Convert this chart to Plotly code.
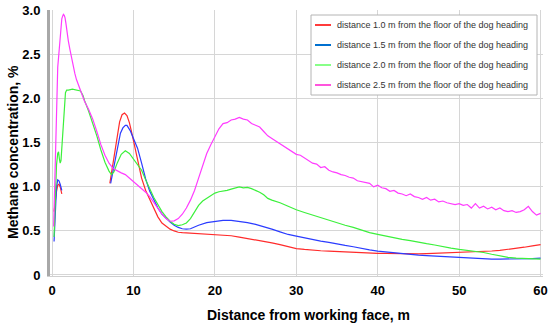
import plotly.graph_objects as go

# ---------------- data ----------------
names = [
    "distance 1.0 m from the floor of the dog heading",
    "distance 1.5 m from the floor of the dog heading",
    "distance 2.0 m from the floor of the dog heading",
    "distance 2.5 m from the floor of the dog heading",
]
colors = ["#ff2b2b", "#2b3cff", "#3cf03c", "#ff3cff"]
legend_colors = ["#ff3b3b", "#0070d0", "#88ff88", "#ff55dd"]

red_x = [0.25, 0.4, 0.55, 0.7, 0.85, 1.0, 1.15, 1.2, None,
         7.1, 7.4, 7.7, 8.0, 8.3, 8.6, 8.9, 9.2, 9.5, 9.8, 10.0, 10.5, 11.0, 11.5, 12.0, 12.5,
         13.0, 13.5, 14.0, 14.5, 15.0, 15.5, 16, 17, 18, 19, 20, 21, 22, 23, 24, 25, 26, 27,
         28, 29, 30, 31, 32, 33, 34, 35, 36, 37, 38, 39, 40, 41, 42, 43, 44, 45, 46, 47, 48,
         49, 50, 51, 52, 53, 54, 55, 56, 57, 58, 59, 60]
red_y = [0.72, 0.86, 0.95, 1.02, 1.03, 1.0, 0.95, 0.92, None,
         1.04, 1.22, 1.42, 1.60, 1.74, 1.82, 1.84, 1.81, 1.73, 1.61, 1.52, 1.30, 1.10, 0.96,
         0.86, 0.76, 0.66, 0.59, 0.55, 0.52, 0.50, 0.485, 0.48, 0.475, 0.47, 0.465, 0.46,
         0.455, 0.445, 0.43, 0.415, 0.40, 0.385, 0.365, 0.345, 0.32, 0.30, 0.29, 0.28, 0.275,
         0.27, 0.265, 0.262, 0.258, 0.255, 0.25, 0.245, 0.245, 0.242, 0.24, 0.24, 0.24, 0.242,
         0.245, 0.248, 0.25, 0.252, 0.255, 0.26, 0.265, 0.272, 0.28, 0.29, 0.30, 0.315, 0.33,
         0.345]

blue_x = [0.25, 0.4, 0.55, 0.7, 0.85, 1.0, 1.15, 1.2, None,
          7.2, 7.5, 7.8, 8.1, 8.4, 8.7, 9.0, 9.2, 9.6, 10.0, 10.5, 11.0, 11.5, 12.0, 12.5,
          13.0, 13.5, 14.0, 14.5, 15.0, 15.5, 16, 16.5, 17, 18, 19, 20, 21, 22, 23, 24, 25,
          26, 27, 28, 29, 30, 31, 32, 33, 34, 35, 36, 37, 38, 39, 40, 41, 42, 43, 44, 45, 46,
          47, 48, 49, 50, 51, 52, 53, 54, 55, 56, 57, 58, 59, 60]
blue_y = [0.38, 0.75, 1.0, 1.08, 1.07, 1.03, 0.98, 0.96, None,
          1.04, 1.18, 1.35, 1.50, 1.61, 1.67, 1.70, 1.70, 1.64, 1.55, 1.44, 1.27, 1.09, 0.95,
          0.85, 0.76, 0.69, 0.64, 0.60, 0.565, 0.54, 0.525, 0.52, 0.525, 0.565, 0.595, 0.61,
          0.62, 0.62, 0.61, 0.595, 0.575, 0.55, 0.52, 0.49, 0.46, 0.44, 0.42, 0.40, 0.385,
          0.37, 0.35, 0.335, 0.32, 0.30, 0.285, 0.27, 0.26, 0.25, 0.24, 0.23, 0.225, 0.22,
          0.215, 0.205, 0.20, 0.195, 0.19, 0.185, 0.185, 0.18, 0.18, 0.18, 0.18, 0.18, 0.185,
          0.19]

green_x = [0.25, 0.4, 0.55, 0.7, 0.8, 0.9, 1.0, 1.1, 1.2, 1.35, 1.5, 1.65, 1.8, 2.0, 2.5,
           3.0, 3.5, 3.8, 4.0, 4.5, 5.0, 5.5, 6.0, 6.5, 7.0, 7.3, 7.6, 8.0, 8.5, 9.0, 9.5,
           10.0, 10.5, 11.0, 11.5, 12.0, 12.5, 13.0, 13.5, 14.0, 14.5, 15.0, 15.5, 16.0, 16.5,
           17.0, 17.5, 18.0, 18.5, 19.0, 19.5, 20.0, 20.5, 21.0, 21.5, 22.0, 22.5, 23.0, 23.5,
           24.0, 24.5, 25.0, 25.5, 26.0, 26.5, 27, 28, 29, 30, 31, 32, 33, 34, 35, 36, 37, 38,
           39, 40, 41, 42, 43, 44, 45, 46, 47, 48, 49, 50, 51, 52, 53, 54, 55, 56, 57, 58, 59,
           60]
green_y = [0.43, 0.9, 1.25, 1.38, 1.40, 1.32, 1.27, 1.30, 1.45, 1.75, 1.98, 2.07, 2.10, 2.10,
           2.11, 2.10, 2.09, 2.04, 1.98, 1.86, 1.73, 1.58, 1.42, 1.28, 1.18, 1.14, 1.17, 1.27,
           1.37, 1.41, 1.38, 1.32, 1.26, 1.19, 1.08, 0.97, 0.88, 0.80, 0.72, 0.66, 0.61, 0.575,
           0.56, 0.57, 0.59, 0.64, 0.72, 0.79, 0.84, 0.87, 0.91, 0.93, 0.945, 0.95, 0.96, 0.975,
           0.99, 1.00, 0.99, 0.995, 0.98, 0.96, 0.94, 0.91, 0.87, 0.85, 0.82, 0.78, 0.74, 0.71,
           0.68, 0.65, 0.62, 0.59, 0.565, 0.54, 0.51, 0.48, 0.46, 0.44, 0.425, 0.405, 0.39,
           0.37, 0.355, 0.34, 0.32, 0.305, 0.29, 0.28, 0.27, 0.255, 0.235, 0.215, 0.20, 0.19,
           0.185, 0.18, 0.18]

magenta_x = [0.2, 0.3, 0.4, 0.5, 0.6, 0.7, 0.8, 0.9, 1.0, 1.1, 1.2, 1.3, 1.4, 1.5, 1.6, 1.7,
             1.8, 1.9, 2.0, 2.2, 2.4, 2.6, 2.8, 3.0, 3.3, 3.6, 4.0, 4.5, 5.0, 5.5, 6.0, 6.5,
             7.0, 7.5, 8.0, 8.5, 9.0, 9.5, 10.0, 10.5, 11.0, 11.5, 12.0, 12.5, 13.0, 13.5,
             14.0, 14.5, 15.0, 15.5, 16.0, 16.5, 17.0, 17.5, 18.0, 18.5, 19.0, 19.5, 20.0,
             20.5, 21.0, 21.5, 22.0, 22.5, 23.0, 23.5, 24.0, 24.5, 25.0, 25.5, 26.0, 26.5,
             27.0, 27.5, 28.0, 28.5, 29.0, 29.5, 30.0, 30.5, 31.0, 31.5, 32.0, 32.5, 33.0,
             33.5, 34.0, 34.5, 35.0, 35.5, 36.0, 36.5, 37.0, 37.5, 38.0, 38.5, 39.0, 39.5,
             40.0, 40.5, 41.0, 41.5, 42.0, 42.5, 43.0, 43.5, 44.0, 44.5, 45.0, 45.5, 46.0,
             46.5, 47.0, 47.5, 48.0, 48.5, 49.0, 49.5, 50.0, 50.5, 51.0, 51.5, 52.0, 52.5,
             53.0, 53.5, 54.0, 54.5, 55.0, 55.5, 56.0, 56.5, 57.0, 57.5, 58.0, 58.5, 59.0,
             59.5, 60.0]
magenta_y = [0.55, 0.95, 1.45, 1.90, 2.20, 2.36, 2.47, 2.60, 2.74, 2.85, 2.91, 2.94, 2.96,
             2.95, 2.92, 2.86, 2.78, 2.72, 2.66, 2.56, 2.46, 2.37, 2.29, 2.22, 2.14, 2.06,
             1.97, 1.88, 1.77, 1.63, 1.48, 1.36, 1.27, 1.21, 1.18, 1.16, 1.14, 1.10, 1.06,
             1.02, 0.99, 0.94, 0.89, 0.82, 0.75, 0.69, 0.64, 0.61, 0.615, 0.64, 0.69, 0.76,
             0.85, 0.96, 1.10, 1.24, 1.38, 1.48, 1.58, 1.66, 1.72, 1.73, 1.76, 1.77, 1.79,
             1.77, 1.76, 1.72, 1.70, 1.68, 1.63, 1.58, 1.55, 1.52, 1.49, 1.46, 1.42, 1.40,
             1.37, 1.36, 1.33, 1.30, 1.27, 1.26, 1.22, 1.23, 1.19, 1.17, 1.16, 1.14, 1.13,
             1.11, 1.10, 1.07, 1.06, 1.05, 1.04, 1.00, 1.02, 0.99, 0.98, 0.95, 0.96, 0.93,
             0.92, 0.90, 0.92, 0.89, 0.88, 0.86, 0.88, 0.85, 0.86, 0.83, 0.84, 0.82, 0.81,
             0.80, 0.81, 0.79, 0.80, 0.76, 0.81, 0.76, 0.78, 0.75, 0.77, 0.74, 0.76, 0.73,
             0.72, 0.73, 0.71, 0.72, 0.74, 0.78, 0.72, 0.68, 0.70]

x_ticks = [0, 10, 20, 30, 40, 50, 60]
y_ticks = [0, 0.5, 1.0, 1.5, 2.0, 2.5, 3.0]
y_tick_labels = ["0", "0.5", "1.0", "1.5", "2.0", "2.5", "3.0"]

x_title = "Distance from working face, m"
y_title = "Methane concentration, %"

# ---------------- figure ----------------
FONT = "Arial, Liberation Sans, sans-serif"
W, H = 550, 326
PL, PR, PT, PB = 50, 543, 10, 276   # plot area in pixels

def px_x(p):
    return (p - PL) / (PR - PL)

def px_y(p):
    return (PB - p) / (PB - PT)

series = [(red_x, red_y), (blue_x, blue_y), (green_x, green_y), (magenta_x, magenta_y)]

fig = go.Figure()
for (xs, ys), name, col in zip(series, names, colors):
    fig.add_trace(go.Scatter(
        x=xs, y=ys, mode="lines", name=name,
        line=dict(color=col, width=1.2),
        connectgaps=False, showlegend=False,
    ))

shapes = []
annotations = []

# legend box (drawn as layout decorations so its proportions match the reference)
shapes.append(dict(type="rect", xref="paper", yref="paper",
                   x0=px_x(311), x1=px_x(537), y0=px_y(95), y1=px_y(15),
                   line=dict(color="#b4b4b4", width=1), fillcolor="white", layer="above"))
for i, (name, lc) in enumerate(zip(names, legend_colors)):
    yy = 25 + 20 * i
    shapes.append(dict(type="line", xref="paper", yref="paper",
                       x0=px_x(315), x1=px_x(331), y0=px_y(yy), y1=px_y(yy),
                       line=dict(color=lc, width=2), layer="above"))
    annotations.append(dict(text=name, x=px_x(335), y=px_y(yy), xref="paper", yref="paper",
                            xanchor="left", yanchor="middle", showarrow=False,
                            font=dict(size=9, family=FONT, color="#333333")))

annotations.append(dict(text=x_title, x=px_x(308), y=px_y(315), xref="paper", yref="paper",
                        xanchor="center", yanchor="middle", showarrow=False,
                        font=dict(size=14, family=FONT, weight="bold", color="#000000")))
annotations.append(dict(text=y_title, x=px_x(13), y=px_y(152), xref="paper", yref="paper",
                        xanchor="center", yanchor="middle", textangle=-90, showarrow=False,
                        font=dict(size=14, family=FONT, weight="bold", color="#000000")))

fig.update_layout(
    width=W, height=H,
    margin=dict(l=PL, r=W - PR, t=PT, b=H - PB),
    paper_bgcolor="white", plot_bgcolor="white",
    font=dict(family=FONT, color="#000000"),
    showlegend=False,
    xaxis=dict(
        range=[-0.25, 60.3], tickvals=x_ticks, ticktext=[str(v) for v in x_ticks],
        showgrid=True, gridcolor="#d6d6d6", gridwidth=1,
        showline=True, linecolor="#cfcfcf", linewidth=1,
        zeroline=False, ticks="", ticklabelstandoff=2, automargin=False,
        tickfont=dict(size=13, family=FONT, weight="bold", color="#000000"),
    ),
    yaxis=dict(
        range=[-0.012, 3.01], tickvals=y_ticks, ticktext=y_tick_labels,
        showgrid=True, gridcolor="#d6d6d6", gridwidth=1,
        showline=True, linecolor="#a8a8a8", linewidth=3,
        zeroline=False, ticks="", ticklabelstandoff=4, automargin=False,
        tickfont=dict(size=13, family=FONT, weight="bold", color="#000000"),
    ),
    shapes=shapes,
    annotations=annotations,
)

# remove the browser's default page margin so the figure sits at the window's corner
fig.write_html("out.html", config={"displayModeBar": False},
               post_script="document.body.style.margin='0';")
